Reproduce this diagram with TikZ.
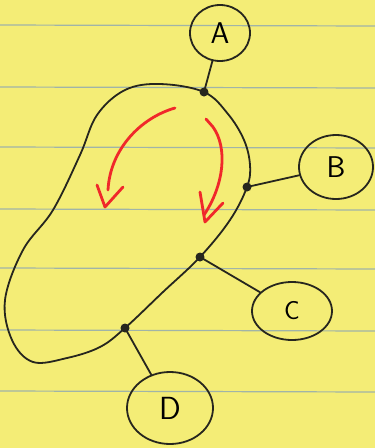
\documentclass[tikz,border=0pt]{standalone}
\usetikzlibrary{shapes.geometric}
\definecolor{paper}{RGB}{244,237,118}
\definecolor{rule}{RGB}{160,180,168}
\definecolor{ink}{RGB}{38,38,30}
\definecolor{redink}{RGB}{240,40,42}
\tikzset{
  ruling/.style={rule, line width=1.2pt},
  inkline/.style={ink, line width=1.8pt, line cap=round, line join=round},
  bubble/.style={ellipse, draw=ink, line width=1.8pt, inner sep=0pt, font=\sffamily},
  junction/.style={circle, fill=ink, inner sep=0pt, minimum size=9pt},
  redstroke/.style={redink, line width=2.8pt, line cap=round, line join=round},
}
\begin{document}
\begin{tikzpicture}[x=1pt, y=-1pt]
  % paper
  \fill[paper] (0,0) rectangle (375,448);
  \useasboundingbox (0,0) rectangle (375,448);
  \foreach \yy in {25,87,147,209,268,330,391}
    \draw[ruling] (0,\yy) -- (375,\yy+1);

  % junction points on the outline
  \coordinate (jA) at (204,92);
  \coordinate (jB) at (247,187);
  \coordinate (jC) at (200,257);
  \coordinate (jD) at (125,328);

  % the closed region
  \draw[inkline] plot[smooth cycle, tension=0.6] coordinates {
    (jA) (228,114) (244,140) (250,165) (jB) (230,220) (jC)
    (163,292) (jD) (100,347) (67,358) (33,362) (12,340) (5,300)
    (23,250) (53,210) (80,155) (97,115) (125,90) (160,84)};

  % labelled nodes
  \node[bubble, minimum width=60pt, minimum height=56pt] (A) at (220,33)
    {\fontsize{30}{30}\selectfont A};
  \node[bubble, minimum width=74pt, minimum height=64pt] (B) at (336,167)
    {\fontsize{30}{30}\selectfont B};
  \node[bubble, minimum width=80pt, minimum height=58pt] (C) at (292,311)
    {\fontsize{26}{26}\selectfont C};
  \node[bubble, minimum width=86pt, minimum height=72pt] (D) at (170,408)
    {\fontsize{32}{32}\selectfont D};

  % connectors
  \draw[inkline] (jA) -- (A);
  \draw[inkline] (jB) -- (B);
  \draw[inkline] (jC) -- (C);
  \draw[inkline] (jD) -- (D);

  \foreach \j in {jA,jB,jC,jD}
    \node[junction] at (\j) {};

  % red turning arrows
  \draw[redstroke] (175,108) .. controls (140,118) and (110,150) .. (108,190);
  \draw[redstroke] (97,185) -- (105,207) -- (123,187);
  \draw[redstroke] (206,119) -- (213,127) .. controls (228,148) and (224,185) .. (204,215);
  \draw[redstroke] (200,192) -- (205,222) -- (223,203);
\end{tikzpicture}
\end{document}
